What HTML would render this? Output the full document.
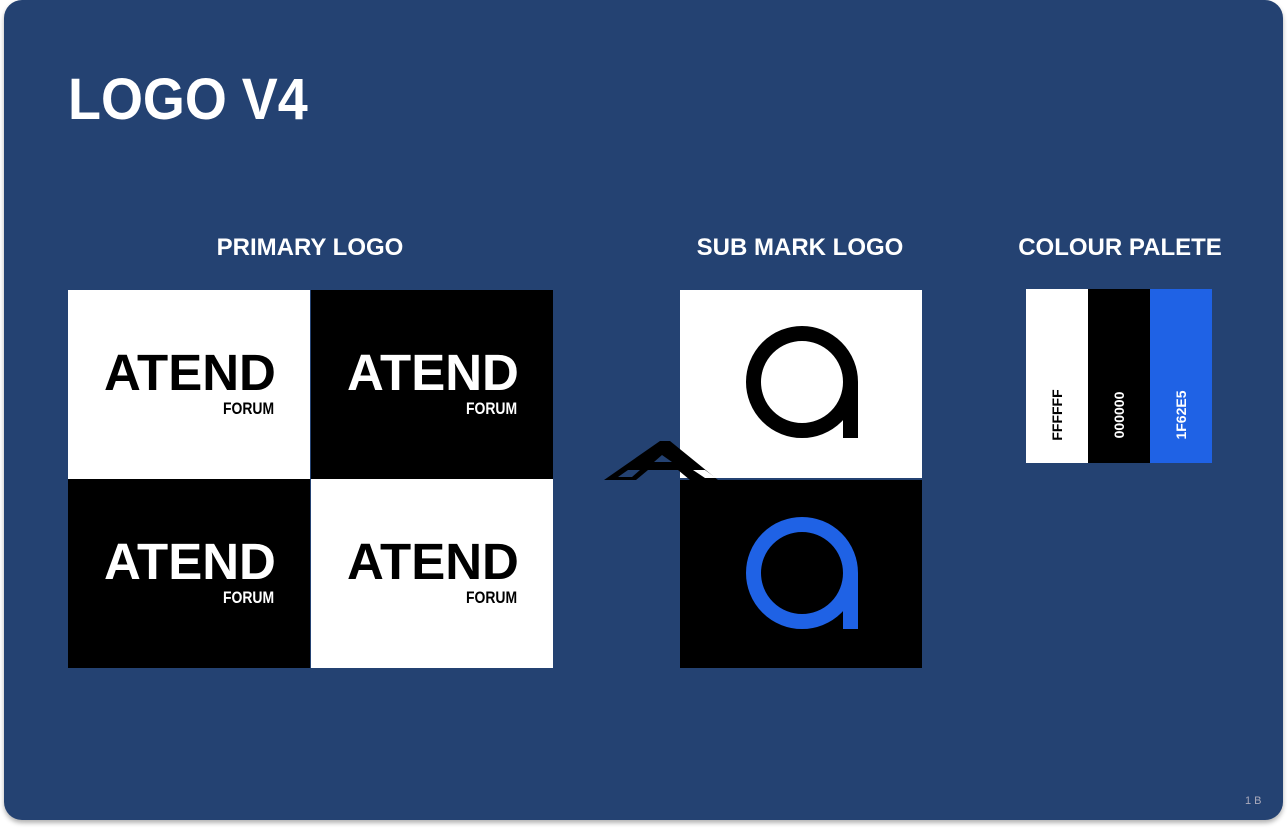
<!DOCTYPE html>
<html><head><style>
body{margin:0;width:1288px;height:828px;background:#fff;position:relative;overflow:hidden;font-family:"Liberation Sans",sans-serif}
.card{position:absolute;left:4px;top:0;width:1279px;height:820px;background:#244272;border-radius:18px;box-shadow:0 3px 5px rgba(0,0,0,.3)}
.abs{position:absolute}
h1{position:absolute;left:68px;top:68px;margin:0;font-size:58px;font-weight:bold;color:#fff;line-height:64px;transform:scaleX(0.93);transform-origin:left}
.h{position:absolute;color:#fff;font-weight:bold;font-size:24px;text-align:center;line-height:30px}
.t{position:absolute;width:242px;height:189px}
.lg{position:absolute;left:36px;top:58px;font-size:51px;font-weight:900;line-height:50px;letter-spacing:0px;transform:scaleX(1.0);transform-origin:left}
.fo{position:absolute;left:155px;top:110px;font-size:17px;font-weight:bold;line-height:18px;transform:scaleX(0.82);transform-origin:left}
.v{position:absolute;transform:rotate(-90deg);font-size:14px;font-weight:bold;white-space:nowrap}
</style></head><body>
<div class="card"></div>
<h1>LOGO V4</h1>
<div class="h" style="left:160px;top:233px;width:300px">PRIMARY LOGO</div>
<div class="h" style="left:650px;top:233px;width:300px">SUB MARK LOGO</div>
<div class="h" style="left:970px;top:233px;width:300px">COLOUR PALETE</div>

<div class="t" style="left:68px;top:290px;background:#fff;color:#000"><div class="lg">ATEND</div><div class="fo">FORUM</div></div>
<div class="t" style="left:311px;top:290px;background:#000;color:#fff"><div class="lg">ATEND</div><div class="fo">FORUM</div></div>
<div class="t" style="left:68px;top:479px;background:#000;color:#fff"><div class="lg">ATEND</div><div class="fo">FORUM</div></div>
<div class="t" style="left:311px;top:479px;background:#fff;color:#000"><div class="lg">ATEND</div><div class="fo">FORUM</div></div>

<div class="abs" style="left:680px;top:290px;width:242px;height:188px;background:#fff"></div>
<div class="abs" style="left:680px;top:480px;width:242px;height:188px;background:#000"></div>
<svg class="abs" style="left:0;top:0" width="1288" height="828">
<circle cx="802" cy="382" r="48.5" fill="none" stroke="#000" stroke-width="15"/>
<rect x="843" y="382" width="15" height="56" fill="#000"/>
<circle cx="802" cy="573" r="48.5" fill="none" stroke="#1f62e5" stroke-width="15"/>
<rect x="843" y="573" width="15" height="56" fill="#1f62e5"/>
<path d="M604,480 L660,441 L670,441 L718,480 L690,480 L678,470 L648,470 L636,480 Z" fill="#000"/>
<path d="M618,477 L628,470 L640,470 L632,477 Z M654,462 L662,455 L672,462 Z" fill="#244272"/>
<path d="M693,470 L705,478 L716,478 L705,470 Z" fill="#fff"/>
</svg>

<div class="abs" style="left:1026px;top:289px;width:62px;height:174px;background:#fff"></div>
<div class="abs" style="left:1088px;top:289px;width:62px;height:174px;background:#000"></div>
<div class="abs" style="left:1150px;top:289px;width:62px;height:174px;background:#1f62e5"></div>
<div class="v" style="left:1027px;top:407px;width:60px;text-align:center;color:#000">FFFFFF</div>
<div class="v" style="left:1089px;top:407px;width:60px;text-align:center;color:#fff">000000</div>
<div class="v" style="left:1151px;top:407px;width:60px;text-align:center;color:#fff">1F62E5</div>
<div class="abs" style="left:1245px;top:795px;font-size:11px;color:#aab">1 B</div>
</body></html>
